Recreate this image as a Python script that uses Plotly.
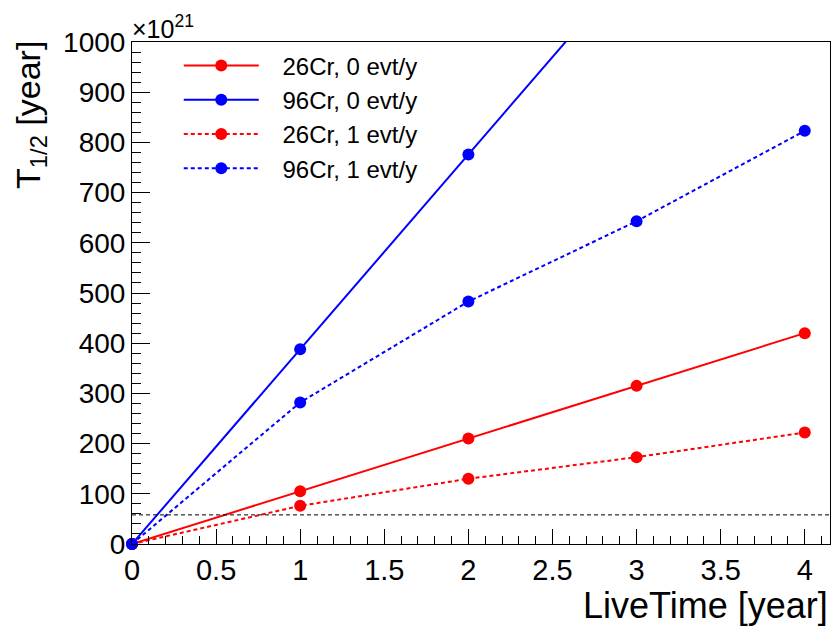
import plotly.graph_objects as go

# Live time in years
live_time = [0, 1, 2, 3, 4]

# Half-life sensitivity (units of 1e21 years)
t_half_26cr_0evt = [0, 105, 210, 315, 420]
t_half_96cr_0evt = [0, 388, 776, 1164, 1552]
t_half_26cr_1evt = [0, 76, 130, 173, 222]
t_half_96cr_1evt = [0, 282, 483, 643, 823]

# Reference level drawn as a horizontal dashed line
reference_level = 58

series = [
    ("26Cr, 0 evt/y", t_half_26cr_0evt, "#ff0000", "solid"),
    ("96Cr, 0 evt/y", t_half_96cr_0evt, "#0000ff", "solid"),
    ("26Cr, 1 evt/y", t_half_26cr_1evt, "#ff0000", "4px,3px"),
    ("96Cr, 1 evt/y", t_half_96cr_1evt, "#0000ff", "4px,3px"),
]

FONT = "Liberation Sans, Arial, Helvetica, sans-serif"
LEGEND_PAD = "\u2002\u00a0"  # extra gap between legend symbol and label

fig = go.Figure()
for name, values, color, dash in series:
    fig.add_trace(go.Scatter(
        x=live_time, y=values, name=LEGEND_PAD + name, mode="lines+markers",
        line=dict(color=color, width=2, dash=dash),
        marker=dict(color=color, size=12, symbol="circle"),
        cliponaxis=False,
    ))

fig.add_hline(y=reference_level, line=dict(color="black", width=1, dash="4px,3px"))

fig.update_layout(
    width=834, height=628,
    margin=dict(l=132, r=4, t=42, b=84),
    paper_bgcolor="white", plot_bgcolor="white",
    font=dict(family=FONT, color="black"),
    showlegend=True,
    legend=dict(
        x=0.067, y=0.997, xanchor="left", yanchor="top",
        bgcolor="rgba(0,0,0,0)", font=dict(size=24, family=FONT),
        itemwidth=75, tracegroupgap=0,
    ),
    xaxis=dict(
        range=[0, 4.15], showgrid=False, zeroline=False,
        showline=True, linecolor="black", linewidth=1, mirror=True,
        ticks="inside", ticklen=15, tickcolor="black", tickwidth=1,
        tick0=0, dtick=0.5, tickfont=dict(size=29, family=FONT),
        minor=dict(ticks="inside", ticklen=8, dtick=0.1, tickcolor="black", tickwidth=1, showgrid=False),
    ),
    yaxis=dict(
        range=[0, 1000], showgrid=False, zeroline=False,
        showline=True, linecolor="black", linewidth=1, mirror=True,
        ticks="inside", ticklen=18, tickcolor="black", tickwidth=1,
        tick0=0, dtick=100, tickfont=dict(size=28, family=FONT),
        minor=dict(ticks="inside", ticklen=9, dtick=20, tickcolor="black", tickwidth=1, showgrid=False),
    ),
    annotations=[
        dict(text="LiveTime [year]", xref="paper", yref="paper", x=1, y=0,
             xanchor="right", yanchor="top", xshift=0, yshift=-39,
             showarrow=False, font=dict(size=36, family=FONT)),
        dict(text="T<sub>1/2</sub> [year]", xref="paper", yref="paper", x=0, y=1,
             xanchor="center", yanchor="top", xshift=-102, yshift=3, textangle=-90,
             showarrow=False, font=dict(size=34, family=FONT)),
        dict(text="×10<sup>21</sup>", xref="paper", yref="paper", x=0, y=1,
             xanchor="left", yanchor="bottom", xshift=-2, yshift=-3,
             showarrow=False, font=dict(size=25, family=FONT)),
    ],
)

fig.write_html("out.html")
